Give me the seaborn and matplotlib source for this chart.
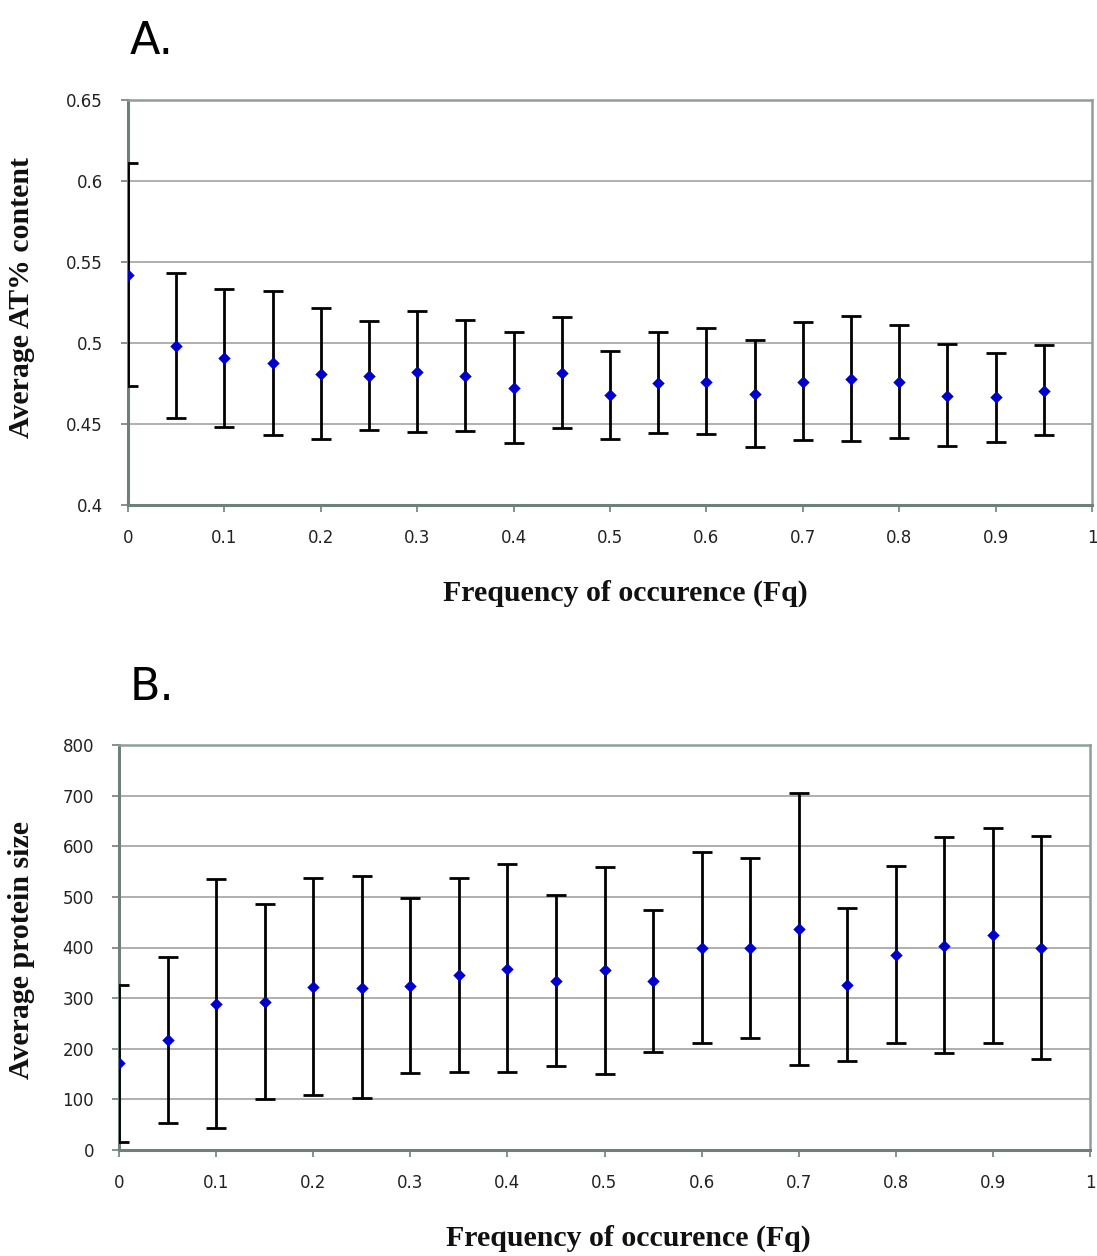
import numpy as np
import pandas as pd
import matplotlib
matplotlib.use("Agg")
import matplotlib.pyplot as plt
import seaborn as sns

# ---- data ----
fq = [0.0, 0.05, 0.1, 0.15, 0.2, 0.25, 0.3, 0.35, 0.4, 0.45,
      0.5, 0.55, 0.6, 0.65, 0.7, 0.75, 0.8, 0.85, 0.9, 0.95]

at_mean = [0.542, 0.498, 0.4905, 0.4875, 0.4807, 0.4794, 0.482, 0.4794, 0.4724, 0.4815,
           0.468, 0.4751, 0.4761, 0.4683, 0.476, 0.4778, 0.4757, 0.4675, 0.4665, 0.4704]
at_upper = [0.611, 0.543, 0.5335, 0.532, 0.5214, 0.5138, 0.5198, 0.514, 0.507, 0.5163,
            0.4953, 0.507, 0.5093, 0.5019, 0.5132, 0.5166, 0.5111, 0.4992, 0.494, 0.4987]
at_lower = [0.4735, 0.454, 0.448, 0.443, 0.4405, 0.4463, 0.4452, 0.4457, 0.438, 0.4473,
            0.4405, 0.4446, 0.4438, 0.436, 0.44, 0.4397, 0.4413, 0.4367, 0.4389, 0.443]

size_mean = [171, 217, 288, 292, 322, 320, 324, 346, 358, 333,
             356, 333, 399, 399, 436, 326, 385, 403, 424, 400]
size_upper = [326, 382, 535, 486, 537, 541, 498, 537, 564, 503,
              560, 474, 588, 577, 706, 479, 561, 618, 636, 621]
size_lower = [15, 54, 44, 100, 109, 103, 153, 155, 155, 166,
              151, 194, 211, 222, 167, 175, 212, 191, 211, 179]

x_ticks = [0, 0.1, 0.2, 0.3, 0.4, 0.5, 0.6, 0.7, 0.8, 0.9, 1]
x_ticklabels = ["0", "0.1", "0.2", "0.3", "0.4", "0.5", "0.6", "0.7", "0.8", "0.9", "1"]
at_ticks = [0.4, 0.45, 0.5, 0.55, 0.6, 0.65]
at_ticklabels = ["0.4", "0.45", "0.5", "0.55", "0.6", "0.65"]
size_ticks = [0, 100, 200, 300, 400, 500, 600, 700, 800]
size_ticklabels = ["0", "100", "200", "300", "400", "500", "600", "700", "800"]

xlabel = "Frequency of occurence (Fq)"
ylabel_a = "Average AT% content"
ylabel_b = "Average protein size"

sns.set_theme(style="white")
plt.rcParams['font.family'] = ['DejaVu Sans']

fig = plt.figure(figsize=(10.97, 12.56), dpi=100)
W, H = 1097, 1256

def axes_px(l, r, t, b):
    return fig.add_axes([l / W, 1 - b / H, (r - l) / W, (b - t) / H])

axA = axes_px(128, 1092, 100, 505)
axB = axes_px(119, 1090, 745, 1150)

serif = ['Liberation Serif', 'DejaVu Serif']

def style(ax, mean, lo, up, yticks, yticklabels, ylim):
    df = pd.DataFrame({"fq": fq, "mean": mean})
    yerr = np.array([np.array(mean) - np.array(lo), np.array(up) - np.array(mean)])
    ax.errorbar(fq, mean, yerr=yerr, fmt='none', ecolor='black',
                elinewidth=2.0, capsize=7, capthick=2.0, zorder=3)
    sns.scatterplot(data=df, x="fq", y="mean", marker='D', s=40, color='#0000cc',
                    edgecolor='#0000cc', linewidth=0, ax=ax, zorder=4)
    ax.set_xlim(0, 1)
    ax.set_ylim(*ylim)
    ax.set_xticks(x_ticks)
    ax.set_xticklabels(x_ticklabels)
    ax.set_yticks(yticks)
    ax.set_yticklabels(yticklabels)
    ax.yaxis.grid(True, color='#9a9a9a', linewidth=1.1)
    ax.xaxis.grid(False)
    ax.set_axisbelow(True)
    for side in ['top', 'right']:
        ax.spines[side].set_color('#8e9e9b')
        ax.spines[side].set_linewidth(1.8)
    for side in ['left', 'bottom']:
        ax.spines[side].set_color('#6f7f7c')
        ax.spines[side].set_linewidth(2.2)
    ax.tick_params(axis='both', which='both', direction='out', length=5,
                   width=1.2, color='#6f7f7c', labelsize=12, labelcolor='#222222')
    ax.tick_params(axis='x', pad=12, bottom=True)
    ax.tick_params(axis='y', pad=13, left=True)
    ax.set_xlabel("")
    ax.set_ylabel("")

style(axA, at_mean, at_lower, at_upper, at_ticks, at_ticklabels, (0.4, 0.65))
style(axB, size_mean, size_lower, size_upper, size_ticks, size_ticklabels, (0, 800))

# Panel letters
fig.text(152 / W, 1 - 42 / H, "A.", fontsize=32, ha='center', va='center', color='black')
fig.text(152 / W, 1 - 688 / H, "B.", fontsize=32, ha='center', va='center', color='black')

# axis labels
fs = 21.5
fig.text(625 / W, 1 - 593 / H, xlabel, fontsize=fs, fontweight='bold', family=serif,
         ha='center', va='center', color='#111111')
fig.text(628 / W, 1 - 1238 / H, xlabel, fontsize=fs, fontweight='bold', family=serif,
         ha='center', va='center', rotation=0, color='#111111')
fig.text(22 / W, 1 - 298 / H, ylabel_a, fontsize=fs, fontweight='bold', family=serif,
         ha='center', va='center', rotation=90, color='#111111')
fig.text(22 / W, 1 - 950 / H, ylabel_b, fontsize=fs, fontweight='bold', family=serif,
         ha='center', va='center', rotation=90, color='#111111')

fig.savefig("out.png", dpi=100, facecolor='white')
